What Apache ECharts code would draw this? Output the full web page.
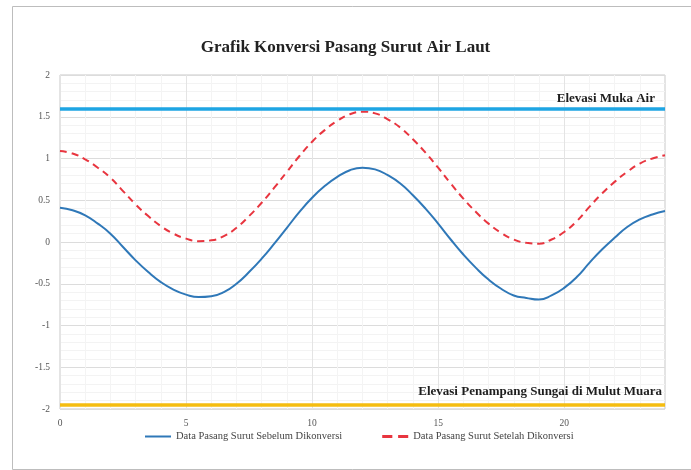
<!DOCTYPE html>
<html>
<head>
<meta charset="utf-8">
<script src="https://cdn.jsdelivr.net/npm/echarts@6/dist/echarts.min.js"></script>
<style>
  html, body { margin: 0; padding: 0; background: #fff; }
  #chart { width: 691px; height: 470px; }
</style>
</head>
<body>
<div id="chart"></div>
<script>
// Waktu pengamatan (jam, tiap setengah jam)
const hours = [0, 0.5, 1, 1.5, 2, 2.5, 3, 3.5, 4, 4.5, 5, 5.5, 6, 6.5, 7, 7.5, 8, 8.5, 9, 9.5,
  10, 10.5, 11, 11.5, 12, 12.5, 13, 13.5, 14, 14.5, 15, 15.5, 16, 16.5, 17, 17.5, 18, 18.5, 19, 19.5,
  20, 20.5, 21, 21.5, 22, 22.5, 23, 23.5, 24];
// Elevasi pasang surut sebelum konversi (m)
const sebelum = [0.41, 0.38, 0.32, 0.22, 0.10, -0.06, -0.22, -0.36, -0.48, -0.57, -0.63, -0.66, -0.65, -0.60, -0.50, -0.36, -0.20, -0.02, 0.17, 0.36,
  0.53, 0.67, 0.78, 0.86, 0.89, 0.87, 0.80, 0.70, 0.56, 0.40, 0.22, 0.03, -0.15, -0.31, -0.45, -0.56, -0.64, -0.67, -0.69, -0.64,
  -0.55, -0.42, -0.25, -0.09, 0.05, 0.18, 0.27, 0.33, 0.37];
// Elevasi pasang surut setelah konversi (m)
const setelah = [1.09, 1.06, 0.99, 0.89, 0.77, 0.61, 0.45, 0.31, 0.19, 0.10, 0.04, 0.01, 0.02, 0.07, 0.17, 0.31, 0.47, 0.65, 0.84, 1.03,
  1.20, 1.34, 1.45, 1.53, 1.56, 1.54, 1.47, 1.37, 1.23, 1.07, 0.89, 0.70, 0.52, 0.36, 0.22, 0.11, 0.03, -0.01, -0.02, 0.03,
  0.12, 0.25, 0.42, 0.58, 0.72, 0.84, 0.94, 1.00, 1.04];
// Garis referensi elevasi (m)
const elevasiMukaAir = 1.6;
const elevasiPenampang = -1.95;
const xTicks = [0, 5, 10, 15, 20];
const yTicks = [-2, -1.5, -1, -0.5, 0, 0.5, 1, 1.5, 2];

const serif = '"Liberation Serif", "DejaVu Serif", serif';
const chart = echarts.init(document.getElementById('chart'));

function refLine(name, value, color, distance) {
  return {
    name: name, type: 'line', silent: true, data: [],
    markLine: {
      silent: true, symbol: 'none', animation: false,
      data: [{ yAxis: value }],
      lineStyle: { color: color, width: 3.5, type: 'solid' },
      label: {
        show: true, position: 'insideEndTop', formatter: name, distance: distance,
        fontFamily: serif, fontSize: 13, fontWeight: 'bold', color: '#1e1e1e'
      }
    },
    z: 1
  };
}

chart.setOption({
  animation: false,
  title: {
    text: 'Grafik Konversi Pasang Surut Air Laut',
    left: 'center', top: 34,
    textStyle: { fontFamily: serif, fontSize: 17, fontWeight: 'bold', color: '#222' }
  },
  graphic: [{
    type: 'rect', left: 10, top: 4,
    shape: { width: 690, height: 463 },
    style: { fill: 'none', stroke: '#bdbdbd', lineWidth: 1 }
  }],
  legend: {
    bottom: 23, left: 140, itemGap: 40, itemWidth: 26, itemHeight: 10,
    textStyle: { fontFamily: serif, fontSize: 10.5, color: '#444' },
    data: [
      { name: 'Data Pasang Surut Sebelum Dikonversi', icon: 'path://M0,4 L26,4 L26,6 L0,6 Z' },
      { name: 'Data Pasang Surut Setelah Dikonversi', icon: 'path://M0,4 L7,4 L7,6 L0,6 Z M11,4 L18,4 L18,6 L11,6 Z' }
    ]
  },
  grid: { left: 60, right: 26, top: 75, bottom: 61, show: true, borderColor: '#c8c8c8', borderWidth: 1 },
  xAxis: {
    type: 'value', min: 0, max: 24, interval: 5,
    axisLine: { show: false }, axisTick: { show: false },
    axisLabel: {
      fontFamily: serif, fontSize: 9.5, color: '#555', margin: 9,
      formatter: v => xTicks.includes(v) ? String(v) : ''
    },
    splitLine: { show: true, lineStyle: { color: '#e4e4e4' } },
    minorSplitLine: { show: true, lineStyle: { color: '#f4f4f4' } }
  },
  yAxis: {
    type: 'value', min: -2, max: 2, interval: 0.5,
    axisLine: { show: false }, axisTick: { show: false },
    axisLabel: {
      fontFamily: serif, fontSize: 9.5, color: '#555', margin: 10,
      formatter: v => yTicks.includes(v) ? String(v) : ''
    },
    splitLine: { show: true, lineStyle: { color: '#dcdcdc' } },
    minorSplitLine: { show: true, lineStyle: { color: '#f3f3f3' } }
  },
  series: [
    refLine('Elevasi Muka Air', elevasiMukaAir, '#1ea5e3', [10, 3]),
    refLine('Elevasi Penampang Sungai di Mulut Muara', elevasiPenampang, '#f5bd10', [3, 7]),
    {
      name: 'Data Pasang Surut Sebelum Dikonversi', type: 'line', smooth: true, symbol: 'none',
      data: hours.map((h, i) => [h, sebelum[i]]),
      itemStyle: { color: '#2f78b8' },
      lineStyle: { color: '#2f78b8', width: 2 },
      z: 3
    },
    {
      name: 'Data Pasang Surut Setelah Dikonversi', type: 'line', smooth: true, symbol: 'none',
      data: hours.map((h, i) => [h, setelah[i]]),
      itemStyle: { color: '#e8353f' },
      lineStyle: { color: '#e8353f', width: 2, type: [7, 5] },
      z: 3
    }
  ]
});
</script>
</body>
</html>
